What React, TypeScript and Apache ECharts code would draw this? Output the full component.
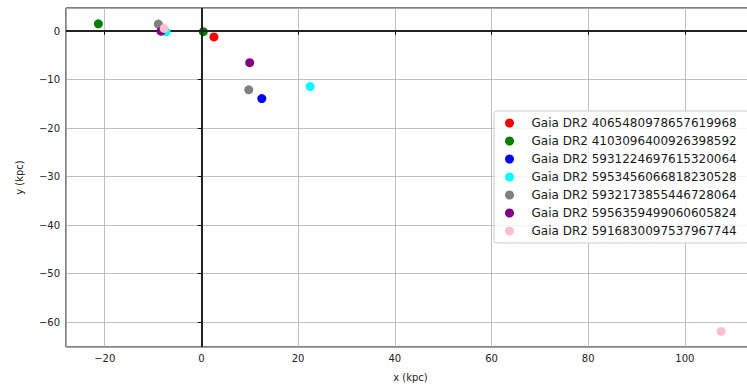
import React, { useEffect, useRef } from "react";
import * as echarts from "echarts";

const seriesNames = [
  "Gaia DR2 4065480978657619968",
  "Gaia DR2 4103096400926398592",
  "Gaia DR2 5931224697615320064",
  "Gaia DR2 5953456066818230528",
  "Gaia DR2 5932173855446728064",
  "Gaia DR2 5956359499060605824",
  "Gaia DR2 5916830097537967744",
];
const seriesColors = ["#ff0000", "#008000", "#0000ff", "#00ffff", "#808080", "#800080", "#ffc0cb"];

const redX = [2.6];
const redY = [-1.2];
const greenX = [-21.3, 0.4];
const greenY = [1.5, -0.1];
const blueX = [12.5];
const blueY = [-13.9];
const cyanX = [-7.3, 22.5];
const cyanY = [-0.15, -11.4];
const grayX = [-8.9, 9.8];
const grayY = [1.45, -12.1];
const purpleX = [-8.35, 10.0];
const purpleY = [0.0, -6.5];
const pinkX = [-7.7, 107.5];
const pinkY = [0.55, -61.9];

const allX = [redX, greenX, blueX, cyanX, grayX, purpleX, pinkX];
const allY = [redY, greenY, blueY, cyanY, grayY, purpleY, pinkY];

const xMin = -28;
const xMax = 114.5;
const yMin = -65.1;
const yMax = 4.77;

const FONT = "DejaVu Sans";

function fmt(step: number) {
  return (v: number) => {
    if (Math.abs(v / step - Math.round(v / step)) > 1e-6) return "";
    return v < 0 ? "\u2212" + Math.abs(v) : String(v);
  };
}

export default function App() {
  const ref = useRef<HTMLDivElement>(null);
  useEffect(() => {
    if (!ref.current) return;
    const chart = echarts.init(ref.current, undefined, { renderer: "svg" });
    const scatters = seriesNames.map((name, i) => ({
      name,
      type: "scatter",
      symbol: "circle",
      symbolSize: 9,
      z: 3 + i,
      itemStyle: { color: seriesColors[i], opacity: 1 },
      data: allX[i].map((x, j) => [x, allY[i][j]]),
    }));
    chart.setOption({
      animation: false,
      backgroundColor: "#ffffff",
      textStyle: { fontFamily: FONT },
      grid: {
        left: 66,
        top: 8,
        right: 0,
        bottom: 40,
        show: true,
        borderColor: "#000000",
        borderWidth: 1,
        backgroundColor: "transparent",
      },
      xAxis: {
        type: "value",
        min: xMin,
        max: xMax,
        splitNumber: 7,
        minInterval: 20,
        maxInterval: 20,
        name: "x (kpc)",
        nameLocation: "middle",
        nameGap: 25,
        nameTextStyle: { fontFamily: FONT, fontSize: 10, color: "#222" },
        axisLine: { show: false },
        axisTick: { show: true, inside: false, length: 3.5, lineStyle: { color: "#000" } },
        axisLabel: {
          showMinLabel: false,
          showMaxLabel: false,
          margin: 6,
          fontFamily: FONT,
          fontSize: 10,
          color: "#222",
          formatter: fmt(20),
        },
        splitLine: { show: true, lineStyle: { color: "#b0b0b0", width: 0.8 } },
      },
      yAxis: {
        type: "value",
        min: yMin,
        max: yMax,
        splitNumber: 7,
        minInterval: 10,
        maxInterval: 10,
        name: "y (kpc)",
        nameLocation: "middle",
        nameRotate: 90,
        nameGap: 42,
        nameTextStyle: { fontFamily: FONT, fontSize: 10, color: "#222" },
        axisLine: { show: false },
        axisTick: { show: true, inside: false, length: 3.5, lineStyle: { color: "#000" } },
        axisLabel: {
          showMinLabel: false,
          showMaxLabel: false,
          margin: 6,
          fontFamily: FONT,
          fontSize: 10,
          color: "#222",
          formatter: fmt(10),
        },
        splitLine: { show: true, lineStyle: { color: "#b0b0b0", width: 0.8 } },
      },
      legend: {
        orient: "vertical",
        left: 494,
        top: 111,
        padding: [5, 12, 5, 11],
        itemWidth: 34,
        itemHeight: 9,
        itemGap: 4,
        backgroundColor: "rgba(255,255,255,0.8)",
        borderColor: "#cccccc",
        borderWidth: 1,
        borderRadius: 3,
        textStyle: { fontFamily: FONT, fontSize: 12, color: "#1a1a1a", lineHeight: 14 },
        data: seriesNames,
        selectedMode: false,
      },
      series: [
        {
          name: "zero-lines",
          type: "line",
          data: [],
          z: 2,
          silent: true,
          markLine: {
            silent: true,
            symbol: ["none", "none"],
            label: { show: false },
            lineStyle: { color: "#222222", width: 2, type: "solid" },
            data: [{ xAxis: 0 }, { yAxis: 0 }],
          },
        },
        ...scatters,
      ],
    });
    return () => chart.dispose();
  }, []);
  return (
    <div
      style={{
        position: "absolute",
        left: 0,
        top: 0,
        width: 747,
        height: 387,
        overflow: "hidden",
      }}
    >
      <div ref={ref} style={{ width: 755, height: 387 }} />
    </div>
  );
}
